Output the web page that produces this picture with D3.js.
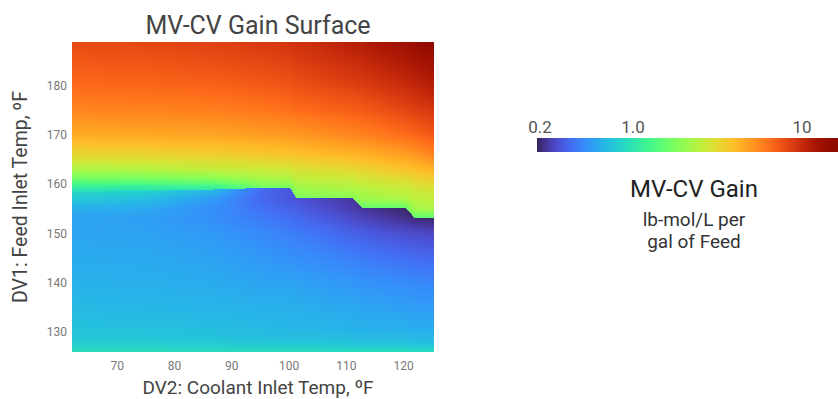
<!DOCTYPE html>
<html>
<head>
<meta charset="utf-8">
<script src="https://cdn.jsdelivr.net/npm/d3@7"></script>
<style>
  body { margin: 0; background: #fff; }
  text { font-family: Roboto, "Noto Sans", sans-serif; }
</style>
</head>
<body>
<svg id="chart" width="838" height="399"></svg>
<script>
// DV2 grid columns, coolant inlet temp (F)
const xNodes = [62.2, 75, 87, 95, 100.2, 101.4, 106, 111.2, 112.8, 116.5, 120.3, 122, 125.4];
// feed temp where the surface jumps up, one per column
const stepY = [158.4, 158.6, 158.9, 159.2, 159.3, 157.1, 157.1, 157.1, 155.2, 155.2, 155.2, 153.2, 153.2];

// gain below the jump (rows = DV1 feed temp), one array per column
const lowRows = [125.9, 127, 128.5, 131, 135, 140, 145, 150, 153, 155, 157, 159.3];
const lowGain = [
  [0.96, 0.86, 0.76, 0.72, 0.67, 0.62, 0.59, 0.56, 0.56, 0.61, 0.78, 0.96],
  [0.96, 0.86, 0.76, 0.71, 0.65, 0.61, 0.58, 0.55, 0.535, 0.58, 0.71, 0.91],
  [0.96, 0.84, 0.74, 0.69, 0.64, 0.59, 0.55, 0.51, 0.47, 0.47, 0.52, 0.71],
  [0.96, 0.82, 0.72, 0.67, 0.62, 0.56, 0.51, 0.45, 0.405, 0.376, 0.35, 0.37],
  [0.96, 0.82, 0.71, 0.65, 0.61, 0.55, 0.48, 0.416, 0.37, 0.33, 0.307, 0.30],
  [0.96, 0.82, 0.71, 0.65, 0.61, 0.55, 0.47, 0.405, 0.357, 0.323, 0.30, 0.30],
  [0.96, 0.82, 0.71, 0.64, 0.59, 0.52, 0.45, 0.376, 0.315, 0.285, 0.264, 0.264],
  [0.96, 0.80, 0.69, 0.62, 0.58, 0.50, 0.416, 0.33, 0.278, 0.251, 0.239, 0.239],
  [0.96, 0.80, 0.69, 0.62, 0.56, 0.48, 0.405, 0.323, 0.264, 0.239, 0.233, 0.233],
  [0.96, 0.80, 0.69, 0.61, 0.55, 0.47, 0.385, 0.30, 0.245, 0.221, 0.221, 0.221],
  [0.96, 0.80, 0.67, 0.61, 0.535, 0.46, 0.37, 0.285, 0.227, 0.21, 0.21, 0.21],
  [0.96, 0.78, 0.67, 0.59, 0.52, 0.45, 0.357, 0.278, 0.216, 0.205, 0.205, 0.205],
  [0.96, 0.78, 0.67, 0.59, 0.52, 0.437, 0.35, 0.27, 0.21, 0.20, 0.20, 0.20]
];

// gain above the jump
const highRows = [153, 155, 157, 158.5, 159.5, 161, 163, 166, 170, 175, 180, 185, 188.85];
const highGain = [
  [0.96, 0.96, 0.96, 0.98, 1.2, 1.71, 2.38, 3.37, 4.58, 5.75, 6.77, 7.5, 8.15],
  [0.96, 0.96, 0.96, 0.98, 1.2, 1.78, 2.48, 3.44, 4.68, 5.86, 6.91, 7.66, 8.32],
  [1.0, 1.0, 1.0, 1.02, 1.28, 1.94, 2.69, 3.58, 4.78, 5.99, 7.05, 7.98, 8.66],
  [1.39, 1.39, 1.39, 1.39, 1.78, 2.28, 2.8, 3.73, 4.98, 6.24, 7.35, 8.32, 9.03],
  [1.51, 1.51, 1.51, 1.51, 1.86, 2.38, 2.92, 3.89, 5.1, 6.5, 7.66, 8.66, 9.4],
  [1.64, 1.64, 1.78, 2.1, 2.28, 2.58, 3.04, 3.97, 5.19, 6.63, 7.8, 8.84, 9.6],
  [1.64, 1.64, 1.86, 2.19, 2.38, 2.69, 3.17, 4.14, 5.4, 6.91, 8.15, 9.4, 10.2],
  [1.64, 1.64, 1.94, 2.28, 2.48, 2.8, 3.3, 4.31, 5.75, 7.2, 8.66, 10, 11.1],
  [1.58, 1.58, 2.19, 2.38, 2.58, 2.92, 3.44, 4.4, 5.86, 7.35, 8.84, 10.2, 11.3],
  [1.58, 1.58, 2.28, 2.53, 2.69, 3.04, 3.66, 4.68, 6.24, 7.8, 9.4, 10.9, 12.3],
  [1.58, 1.58, 2.38, 2.63, 2.8, 3.17, 3.89, 4.98, 6.63, 8.32, 10, 11.6, 13.3],
  [1.51, 2.28, 2.58, 2.8, 2.98, 3.37, 4.05, 5.19, 6.91, 8.66, 10.4, 12.3, 13.9],
  [1.51, 2.38, 2.69, 2.92, 3.17, 3.58, 4.4, 5.86, 7.5, 9.2, 11.3, 13.3, 15.7]
];

const xTicks = [70, 80, 90, 100, 110, 120];
const yTicks = [130, 140, 150, 160, 170, 180];
const cbTicks = [0.2, 1, 10];
const cbLabels = ["0.2", "1.0", "10"];
const cbDomain = [0.2, 1, 10, 16.4];

const svg = d3.select("#chart");

const plotL = 72, plotR = 434, plotT = 42, plotB = 352;
const x = d3.scaleLinear().domain([62.2, 125.4]).range([plotL, plotR]);
const y = d3.scaleLinear().domain([125.9, 188.85]).range([plotB, plotT]);

// colour position along turbo, log spaced like the colour bar
const tScale = d3.scaleLog().domain(cbDomain).range([0.02, 0.319, 0.88, 1]).clamp(true);
const color = v => d3.interpolateTurbo(tScale(v));

function sample(rows, grid, i, f, yv) {
  let j = d3.bisectRight(rows, yv) - 1;
  j = Math.max(0, Math.min(rows.length - 2, j));
  const g = Math.max(0, Math.min(1, (yv - rows[j]) / (rows[j + 1] - rows[j])));
  const lv = c => Math.log(grid[c][j]) * (1 - g) + Math.log(grid[c][j + 1]) * g;
  return Math.exp(lv(i) * (1 - f) + lv(i + 1) * f);
}

// paint the surface
const W = plotR - plotL, H = plotB - plotT;
const canvas = document.createElement("canvas");
canvas.width = W; canvas.height = H;
const ctx = canvas.getContext("2d");
const img = ctx.createImageData(W, H);
for (let px = 0; px < W; px++) {
  const xv = x.invert(plotL + px + 0.5);
  let i = d3.bisectRight(xNodes, xv) - 1;
  i = Math.max(0, Math.min(xNodes.length - 2, i));
  const f = Math.max(0, Math.min(1, (xv - xNodes[i]) / (xNodes[i + 1] - xNodes[i])));
  const yb = stepY[i] * (1 - f) + stepY[i + 1] * f;
  for (let py = 0; py < H; py++) {
    const yv = y.invert(plotT + py + 0.5);
    const v = yv < yb ? sample(lowRows, lowGain, i, f, yv) : sample(highRows, highGain, i, f, yv);
    const c = d3.rgb(color(v));
    const k = (py * W + px) * 4;
    img.data[k] = c.r; img.data[k + 1] = c.g; img.data[k + 2] = c.b; img.data[k + 3] = 255;
  }
}
ctx.putImageData(img, 0, 0);

svg.append("image")
  .attr("x", plotL).attr("y", plotT)
  .attr("width", W).attr("height", H)
  .attr("href", canvas.toDataURL());

// axes
const gx = svg.append("g")
  .attr("transform", `translate(0,${plotB})`)
  .call(d3.axisBottom(x).tickValues(xTicks).tickSize(0).tickPadding(9));
const gy = svg.append("g")
  .attr("transform", `translate(${plotL},0)`)
  .call(d3.axisLeft(y).tickValues(yTicks).tickSize(0).tickPadding(5));
[gx, gy].forEach(g => {
  g.select(".domain").remove();
  g.selectAll("text").attr("font-size", 12).attr("fill", "#777")
    .style("font-family", "Roboto, sans-serif");
});

svg.append("text")
  .attr("x", 258).attr("y", 34)
  .attr("text-anchor", "middle")
  .attr("font-size", 25).attr("fill", "#444")
  .text("MV-CV Gain Surface");

svg.append("text")
  .attr("x", 258).attr("y", 394)
  .attr("text-anchor", "middle")
  .attr("font-size", 19).attr("fill", "#444")
  .text("DV2: Coolant Inlet Temp, ºF");

svg.append("text")
  .attr("transform", "translate(27,197) rotate(-90)")
  .attr("text-anchor", "middle")
  .attr("font-size", 19.5).attr("fill", "#444")
  .text("DV1: Feed Inlet Temp, ºF");

// colour bar
const cb = d3.scaleLog().domain(cbDomain).range([537, 633, 802, 838]);
const grad = svg.append("defs").append("linearGradient")
  .attr("id", "cbgrad").attr("x1", "0%").attr("x2", "100%");
d3.range(0, 1.0001, 0.02).forEach(p => {
  grad.append("stop").attr("offset", (p * 100) + "%")
    .attr("stop-color", d3.interpolateTurbo(0.02 + 0.98 * p));
});
svg.append("rect")
  .attr("x", cb.range()[0]).attr("y", 138)
  .attr("width", cb.range()[3] - cb.range()[0]).attr("height", 14)
  .attr("fill", "url(#cbgrad)");

svg.append("g").selectAll("text")
  .data(cbTicks)
  .join("text")
  .attr("x", d => cb(d) + (d === cbTicks[0] ? 3 : 0))
  .attr("y", 133)
  .attr("text-anchor", "middle")
  .attr("font-size", 17).attr("fill", "#555")
  .text((d, i) => cbLabels[i]);

svg.append("text")
  .attr("x", 694).attr("y", 197)
  .attr("text-anchor", "middle")
  .attr("font-size", 24).attr("fill", "#222")
  .text("MV-CV Gain");
svg.append("text")
  .attr("x", 694).attr("y", 226)
  .attr("text-anchor", "middle")
  .attr("font-size", 19).attr("fill", "#333")
  .text("lb-mol/L per");
svg.append("text")
  .attr("x", 694).attr("y", 248)
  .attr("text-anchor", "middle")
  .attr("font-size", 19).attr("fill", "#333")
  .text("gal of Feed");
</script>
</body>
</html>
